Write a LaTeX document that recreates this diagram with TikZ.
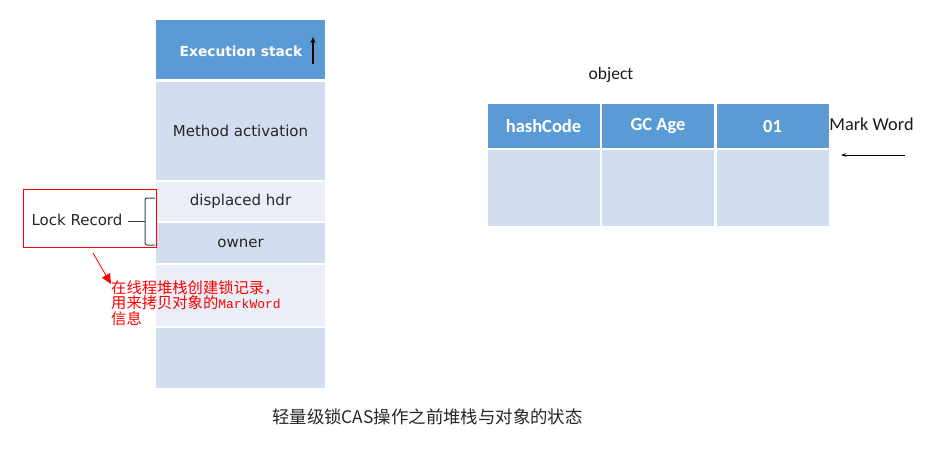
\documentclass[tikz,border=0pt]{standalone}
\usepackage{fontspec}
\usetikzlibrary{arrows.meta}
\newfontfamily\dvfont{DejaVu Sans}
\newfontfamily\cbfont{Carlito}
\newfontfamily\cjkfont{Noto Sans CJK SC}
\newfontfamily\monofont{Liberation Mono}
\definecolor{dblue}{HTML}{5B9BD5}
\definecolor{lblue}{HTML}{D2DEEF}
\definecolor{llblue}{HTML}{EAEFF7}
\definecolor{bracegray}{HTML}{404040}
\tikzset{
  cell/.style={draw=white, line width=2pt, minimum width=171pt, inner sep=0pt, font=\dvfont\fontsize{15}{18}\selectfont, text=black!85},
  hdr/.style={cell, fill=dblue, text=white},
  dark/.style={cell, fill=lblue},
  light/.style={cell, fill=llblue},
  ocell/.style={draw=white, line width=2pt, minimum width=114pt, inner sep=0pt, font=\cbfont\bfseries\fontsize{18.5}{21}\selectfont, text=white},
  ohdr/.style={ocell, fill=dblue},
  obody/.style={ocell, fill=lblue},
  lbl/.style={font=\cbfont\fontsize{18.3}{21}\selectfont, text=black!90, inner sep=0pt},
}
\begin{document}
\begin{tikzpicture}[x=1pt,y=-1pt]
\useasboundingbox (0,0) rectangle (933,450);
% stack
\node[hdr, minimum height=61pt] (exec) at (240.5,49.5) {};
\node[font=\dvfont\bfseries\fontsize{13.8}{16}\selectfont, text=white, inner sep=0pt] (exect) at (241,51) {Execution stack};
\node[dark, minimum height=100pt] (meth) at (240.5,131) {Method activation};
\node[light, minimum height=41pt] (disp) at (240.5,201.5) {displaced hdr};
\node[dark, minimum height=42pt] (own) at (240.5,243) {owner};
\node[light, minimum height=63pt] (e1) at (240.5,295.5) {};
\node[dark, minimum height=62pt] (e2) at (240.5,358) {};
\coordinate (upa) at (313,64);
\coordinate (upb) at (313,37);
\draw[-{Stealth[length=6pt,width=5pt]}, line width=1.2pt, black] (upa) -- (upb);
% object
\node[lbl, font=\cbfont\fontsize{17.5}{20}\selectfont] (objt) at (611,75) {object};
\node[ohdr, minimum height=46pt] (h1) at (543.5,126) {hashCode};
\node[ohdr, minimum height=46pt] (h2) at (658,126) {GC Age};
\node[ohdr, minimum height=46pt] (h3) at (772.5,126) {01};
\node[obody, minimum height=78pt] (b1) at (543.5,188) {};
\node[obody, minimum height=78pt] (b2) at (658,188) {};
\node[obody, minimum height=78pt] (b3) at (772.5,188) {};
\node[lbl] (mw) at (871.5,124) {Mark Word};
\coordinate (mwa) at (905,155);
\coordinate (mwb) at (841,155);
\draw[-{Stealth[length=5pt,width=3.5pt]}, line width=0.8pt] (mwa) -- (mwb);
% lock record
\node[draw=red, line width=0.9pt, minimum width=133pt, minimum height=58pt, inner sep=0pt] (lr) at (89.5,218) {};
\node[font=\dvfont\fontsize{15}{18}\selectfont, text=black!85, inner sep=0pt] (lrt) at (77,220) {Lock Record};
\draw[bracegray, line width=1pt, rounded corners=2pt] (155,198) -- (145,198) -- (145,245) -- (155,245);
\draw[bracegray, line width=1pt] (128,221) -- (145,221);
% red note
\coordinate (ra) at (93,253);
\coordinate (rb) at (111,284);
\draw[red, line width=0.8pt, -{Triangle[length=10pt,width=9pt]}] (ra) -- (rb);
\node[anchor=north west, align=left, text=red, inner sep=0pt, font=\cjkfont\fontsize{15.3}{15.5}\selectfont] (note) at (111,280)
  {在线程堆栈创建锁记录，\\用来拷贝对象的{\monofont\fontsize{13}{15.5}\selectfont MarkWord}\\信息};
% caption
\node[font=\cjkfont\fontsize{17.4}{20}\selectfont, text=black!85, inner sep=0pt] (cap) at (427.5,417) {轻量级锁CAS操作之前堆栈与对象的状态};
\end{tikzpicture}
\end{document}
